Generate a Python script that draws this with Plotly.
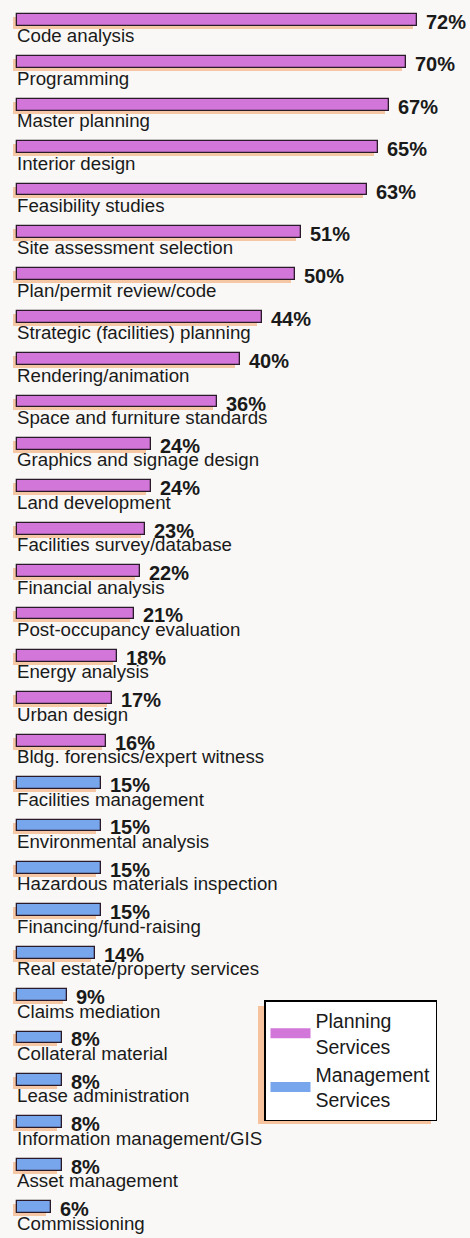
import plotly.graph_objects as go

categories = [
    "Code analysis", "Programming", "Master planning", "Interior design",
    "Feasibility studies", "Site assessment selection", "Plan/permit review/code",
    "Strategic (facilities) planning", "Rendering/animation",
    "Space and furniture standards", "Graphics and signage design",
    "Land development", "Facilities survey/database", "Financial analysis",
    "Post-occupancy evaluation", "Energy analysis", "Urban design",
    "Bldg. forensics/expert witness", "Facilities management",
    "Environmental analysis", "Hazardous materials inspection",
    "Financing/fund-raising", "Real estate/property services",
    "Claims mediation", "Collateral material", "Lease administration",
    "Information management/GIS", "Asset management", "Commissioning",
]
values = [72, 70, 67, 65, 63, 51, 50, 44, 40, 36, 24, 24, 23, 22, 21, 18, 17, 16,
          15, 15, 15, 15, 14, 9, 8, 8, 8, 8, 6]
groups = ["Planning Services"] * 18 + ["Management Services"] * 11
legend_labels = {"Planning Services": "Planning<br>Services",
                 "Management Services": "Management<br>Services"}
colors = {"Planning Services": "#d277d9", "Management Services": "#78a6ec"}

W, H = 470, 1238
L, R, T, B = 9, 0, 0, 0
PW = W - L - R
FONT = "Liberation Sans, Arial, sans-serif"

fig = go.Figure()

# orange drop shadow behind each bar
fig.add_trace(go.Bar(
    y=categories, x=values, base=-0.8, orientation="h",
    width=0.28, offset=-0.07,
    marker=dict(color="rgba(245,178,130,0.7)", line=dict(width=0)),
    showlegend=False, hoverinfo="skip",
))

for g in ["Planning Services", "Management Services"]:
    ys = [c for c, gg in zip(categories, groups) if gg == g]
    xs = [v for v, gg in zip(values, groups) if gg == g]
    fig.add_trace(go.Bar(
        y=ys, x=xs, orientation="h", name=g,
        width=0.28, offset=-0.14,
        marker=dict(color=colors[g], line=dict(color="#2a1a2a", width=1.3)),
        showlegend=False,
    ))
    # legend swatch
    fig.add_trace(go.Scatter(
        x=[None], y=[None], mode="lines", name=legend_labels[g],
        line=dict(color=colors[g], width=10),
    ))

annotations = []
for c, v in zip(categories, values):
    annotations.append(dict(
        x=0, y=c, xref="x", yref="y", text=c, showarrow=False,
        xanchor="left", yanchor="middle", xshift=-2, yshift=-16,
        font=dict(family=FONT, size=18.7, color="#1a1a1a"),
    ))
    annotations.append(dict(
        x=v, y=c, xref="x", yref="y", text=f"<b>{v}%</b>", showarrow=False,
        xanchor="left", yanchor="middle", xshift=7, yshift=-2,
        font=dict(family=FONT, size=20, color="#1a1a1a"),
    ))

fig.update_layout(
    width=W, height=H,
    margin=dict(l=L, r=R, t=T, b=B),
    paper_bgcolor="#f9f8f6", plot_bgcolor="#f9f8f6",
    barmode="overlay",
    bargap=0,
    xaxis=dict(range=[-1.5, 81.5], visible=False),
    yaxis=dict(range=[28.73, -0.47], visible=False,
               categoryorder="array", categoryarray=categories),
    annotations=annotations,
    showlegend=True,
    legend=dict(
        x=(264 - L) / PW, y=1 - 1000 / H, xanchor="left", yanchor="top",
        bgcolor="white", bordercolor="black", borderwidth=1.5,
        font=dict(family=FONT, size=19.5, color="#1a1a1a"),
        itemwidth=40,
    ),
    shapes=[dict(type="rect", xref="paper", yref="paper",
                 x0=(258 - L) / PW, x1=(431 - L) / PW,
                 y0=1 - 1124 / H, y1=1 - 1006 / H,
                 fillcolor="rgba(245,178,130,0.75)", line=dict(width=0),
                 layer="above")],
)

fig.write_html(
    "out.html",
    config={"displayModeBar": False},
    post_script="document.body.style.margin='0';document.body.style.overflow='hidden';",
)
